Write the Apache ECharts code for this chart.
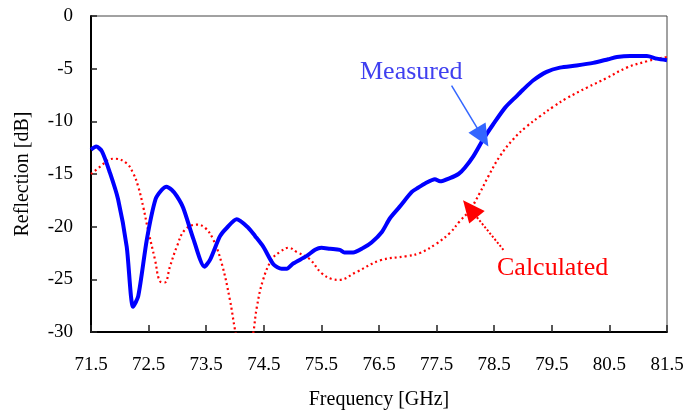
<!DOCTYPE html>
<html>
<head>
<meta charset="utf-8">
<script src="https://cdn.jsdelivr.net/npm/echarts@6/dist/echarts.min.js"></script>
<style>html,body{margin:0;padding:0;background:#fff;}#c{width:693px;height:412px;}</style>
</head>
<body>
<div id="c"></div>
<script>
const xTicks = [71.5, 72.5, 73.5, 74.5, 75.5, 76.5, 77.5, 78.5, 79.5, 80.5, 81.5];
const yTicks = [0, -5, -10, -15, -20, -25, -30];

const measuredFreq = [71.5, 71.59, 71.69, 71.83, 71.97, 72.12, 72.23, 72.32, 72.47, 72.62, 72.73, 72.81, 72.9, 72.99, 73.1, 73.28, 73.47, 73.57, 73.74, 73.86, 74.03, 74.23, 74.35, 74.49, 74.67, 74.81, 74.9, 75.01, 75.24, 75.39, 75.5, 75.65, 75.82, 75.9, 76.05, 76.23, 76.37, 76.55, 76.69, 76.86, 77.07, 77.18, 77.3, 77.47, 77.56, 77.73, 77.88, 77.99, 78.14, 78.31, 78.48, 78.69, 78.89, 79.0, 79.18, 79.41, 79.64, 79.93, 80.22, 80.48, 80.63, 80.86, 81.15, 81.32, 81.5];
const measuredVal = [-12.7, -12.4, -12.85, -14.9, -17.4, -21.9, -27.6, -26.6, -21.2, -17.4, -16.5, -16.2, -16.5, -17.1, -18.2, -21.2, -23.8, -23.1, -20.9, -20.1, -19.3, -20.1, -20.9, -21.9, -23.6, -24.0, -24.0, -23.5, -22.8, -22.2, -22.0, -22.1, -22.2, -22.45, -22.45, -22.0, -21.5, -20.5, -19.2, -18.1, -16.7, -16.3, -15.9, -15.5, -15.7, -15.4, -15.0, -14.4, -13.3, -11.7, -10.3, -8.7, -7.6, -7.0, -6.1, -5.3, -4.9, -4.7, -4.45, -4.1, -3.9, -3.8, -3.8, -4.05, -4.2];

const calcFreq = [71.5, 71.66, 71.83, 71.92, 72.12, 72.23, 72.32, 72.41, 72.49, 72.61, 72.7, 72.78, 72.87, 72.99, 73.13, 73.34, 73.48, 73.62, 73.77, 73.91, 74.0, 74.08, 74.16, 74.25, 74.32, 74.38, 74.49, 74.64, 74.78, 74.93, 75.07, 75.3, 75.5, 75.7, 75.8, 76.11, 76.52, 76.98, 77.21, 77.5, 77.73, 77.9, 78.08, 78.25, 78.4, 78.6, 78.83, 79.06, 79.3, 79.53, 79.76, 80.11, 80.45, 80.8, 81.15, 81.38, 81.5];
const calcVal = [-15.0, -14.3, -13.6, -13.55, -14.0, -14.9, -16.2, -18.2, -20.3, -23.1, -25.2, -25.3, -23.8, -21.9, -20.3, -19.8, -20.1, -21.2, -23.5, -26.9, -29.8, -32.0, -33.0, -32.0, -30.0, -27.6, -25.0, -23.1, -22.4, -22.0, -22.4, -23.1, -24.4, -25.0, -25.05, -24.3, -23.2, -22.8, -22.5, -21.6, -20.6, -19.5, -18.4, -16.8, -15.2, -13.3, -11.7, -10.5, -9.5, -8.6, -7.8, -6.8, -5.9, -4.9, -4.3, -4.0, -3.9];

const seriesNames = ['Measured', 'Calculated'];

const chart = echarts.init(document.getElementById('c'), null, {renderer: 'canvas'});
const serif = '"Liberation Serif", "Times New Roman", serif';

chart.setOption({
  animation: false,
  backgroundColor: '#ffffff',
  grid: {left: 91, right: 26, top: 16, bottom: 80, show: true, borderColor: '#444', borderWidth: 1,
         outerBoundsMode: 'none'},
  xAxis: {
    type: 'value', min: xTicks[0], max: xTicks[xTicks.length - 1], interval: 1,
    name: 'Frequency [GHz]', nameLocation: 'middle', nameGap: 58,
    nameTextStyle: {fontFamily: serif, fontSize: 20, color: '#000'},
    axisLine: {show: true, onZero: false, lineStyle: {color: '#000', width: 2}},
    axisTick: {show: true, inside: true, length: 7, lineStyle: {color: '#222', width: 1.5}},
    axisLabel: {fontFamily: serif, fontSize: 19, color: '#000', margin: 24, formatter: v => v.toFixed(1)},
    splitLine: {show: false}
  },
  yAxis: {
    type: 'value', min: yTicks[yTicks.length - 1], max: yTicks[0], interval: 5,
    name: 'Reflection [dB]', nameLocation: 'middle', nameGap: 58,
    nameTextStyle: {fontFamily: serif, fontSize: 20, color: '#000'},
    axisLine: {show: true, onZero: false, lineStyle: {color: '#000', width: 2}},
    axisTick: {show: true, inside: true, length: 6, lineStyle: {color: '#222', width: 1.5}},
    axisLabel: {fontFamily: serif, fontSize: 19, color: '#000', margin: 18},
    splitLine: {show: false}
  },
  series: [
    {
      name: seriesNames[1], type: 'line', showSymbol: false, smooth: 0.4, clip: true,
      data: calcFreq.map((f, i) => [f, calcVal[i]]),
      lineStyle: {color: '#ff0000', width: 2.2, type: [2, 3]},
      z: 2,
      markLine: {
        silent: true, symbol: ['none', 'triangle'], symbolSize: [20, 22],
        lineStyle: {color: '#ff0000', width: 2, type: [2, 2]},
        label: {show: false},
        data: [[{coord: [78.66, -22.2]}, {coord: [78.08, -18.3]}]]
      }
    },
    {
      name: seriesNames[0], type: 'line', showSymbol: false, smooth: 0.25, clip: true,
      data: measuredFreq.map((f, i) => [f, measuredVal[i]]),
      lineStyle: {color: '#0000ff', width: 4},
      z: 3,
      markLine: {
        silent: true, symbol: ['none', 'triangle'], symbolSize: [20, 22],
        lineStyle: {color: '#3366ff', width: 1.5, type: 'solid'},
        label: {show: false},
        data: [[{coord: [77.76, -6.6]}, {coord: [78.3, -11.5]}]]
      }
    }
  ],
  graphic: [
    {type: 'text', left: 360, top: 59, style: {text: 'Measured', font: '26px ' + serif, fill: '#3f3ff0'}},
    {type: 'text', left: 497, top: 255, style: {text: 'Calculated', font: '26px ' + serif, fill: '#ff0000'}}
  ]
});
</script>
</body>
</html>
